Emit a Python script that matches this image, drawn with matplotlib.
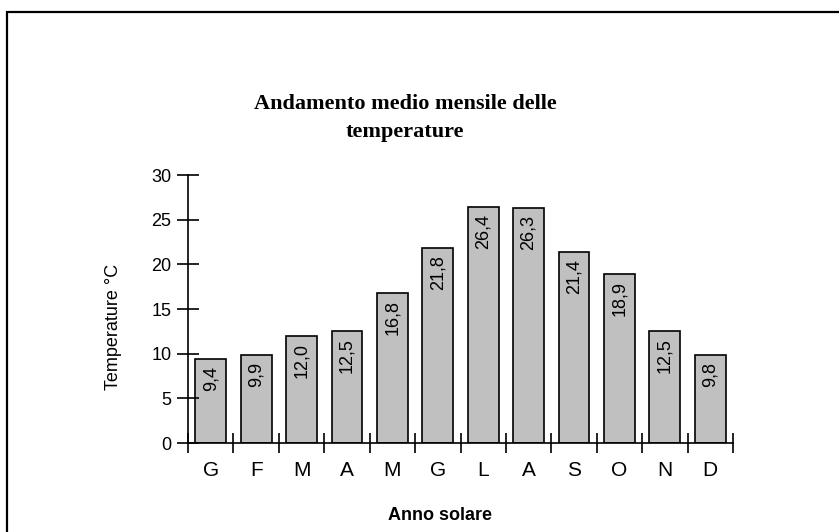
import matplotlib
matplotlib.use("Agg")
import matplotlib.pyplot as plt
from matplotlib.patches import Rectangle
import numpy as np

# Data
months = ["G", "F", "M", "A", "M", "G", "L", "A", "S", "O", "N", "D"]
temps = [9.4, 9.9, 12.0, 12.5, 16.8, 21.8, 26.4, 26.3, 21.4, 18.9, 12.5, 9.8]
y_ticks = [0, 5, 10, 15, 20, 25, 30]

plt.rcParams["font.family"] = ["Liberation Sans", "DejaVu Sans"]

W, H = 839, 532
fig = plt.figure(figsize=(W / 100, H / 100), dpi=100)

# outer frame (runs off the right and bottom edges)
fig.patches.append(
    Rectangle((7 / W, -0.1), 1.2, 1 - 12 / H + 0.1, transform=fig.transFigure,
              fill=False, edgecolor="black", linewidth=1.6)
)

ax = fig.add_axes([188 / W, 1 - 443 / H, (733 - 188) / W, (443 - 175) / H])

x = np.arange(len(months))
bars = ax.bar(x, temps, width=0.68, color="#c0c0c0", edgecolor="black", linewidth=1.2)

# value labels inside bars, rotated
for xi, v in zip(x, temps):
    ax.annotate(f"{v:.1f}".replace(".", ","), (xi, v), xytext=(0, -5),
                textcoords="offset points", rotation=90, ha="center", va="top",
                fontsize=13)

ax.set_xlim(-0.5, len(months) - 0.5)
ax.set_ylim(0, 30)

for s in ["top", "right"]:
    ax.spines[s].set_visible(False)
ax.spines["left"].set_linewidth(1.2)
ax.spines["bottom"].set_linewidth(1.2)

ax.set_yticks(y_ticks)
ax.tick_params(axis="y", direction="inout", length=16, width=1.2, labelsize=13, pad=4)

# boundary ticks on x, labels at the centres
ax.set_xticks(np.arange(-0.5, len(months), 1.0))
ax.set_xticklabels([])
ax.tick_params(axis="x", which="major", direction="inout", length=15, width=1.2)
ax.set_xticks(x, minor=True)
ax.set_xticklabels(months, minor=True)
ax.tick_params(axis="x", which="minor", length=0, labelsize=15, pad=13)

fig.text(114 / W, 1 - 327 / H, "Temperature °C", rotation=90, ha="center", va="center",
         fontsize=13)
fig.text(440 / W, 1 - 516 / H, "Anno solare", ha="center", va="center",
         fontsize=13, fontweight="bold")
fig.text(405 / W, 1 - 118 / H, "Andamento medio mensile delle\ntemperature",
         ha="center", va="center", fontsize=16, fontweight="bold",
         family="Liberation Serif", linespacing=1.55)

plt.savefig("out.png", dpi=100)
